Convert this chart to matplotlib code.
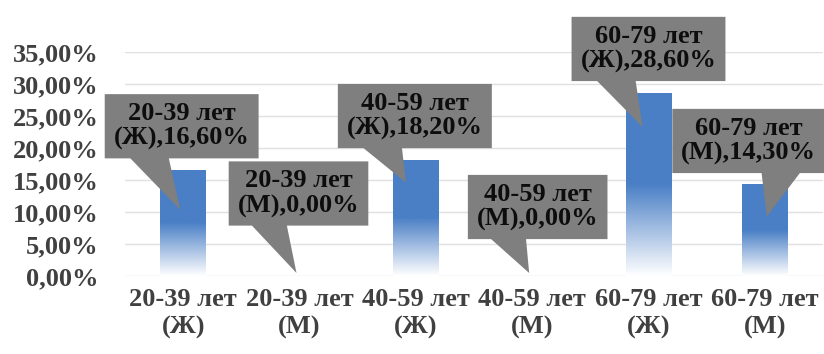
import matplotlib
matplotlib.use('Agg')
import matplotlib.pyplot as plt
import numpy as np
from matplotlib import font_manager as fm
from matplotlib.colors import LinearSegmentedColormap
from matplotlib.patches import Polygon
from matplotlib.ticker import FuncFormatter
from matplotlib.transforms import IdentityTransform

categories = ['20-39 лет\n(Ж)', '20-39 лет\n(М)', '40-59 лет\n(Ж)',
              '40-59 лет\n(М)', '60-79 лет\n(Ж)', '60-79 лет\n(М)']
values = [16.6, 0.0, 18.2, 0.0, 28.6, 14.3]

# callout layout, pixels relative to the top of each bar (x right, y up)
box_offsets = [(-1.5, 43.5), (-1, 82.5), (-1, 43.5), (5.5, 69), (0, 44), (-16, 43.5)]
tip_offsets = [(-3, -40), (-3, 3), (-10, -23), (-3, 3), (-6, -34), (2, -32)]

serif_bold = fm.findfont(fm.FontProperties(family='Liberation Serif', weight='bold'))

def fp(size):
    return fm.FontProperties(fname=serif_bold, size=size)

def pct(v, pos=None):
    return ('%.2f' % v).replace('.', ',') + '%'

fig = plt.figure(figsize=(8.24, 3.54), dpi=100)
ax = fig.add_axes([125/824, 1 - 276/354, 698/824, 224/354])

x = np.arange(len(values))
bar_w = 0.39
blue = '#4a7fc6'
fade = LinearSegmentedColormap.from_list('fade', [(0, '#ffffff'), (0.5, blue), (1, blue)])
grad = np.linspace(0, 1, 256).reshape(-1, 1)

bars = ax.bar(x, values, bar_w, color='none', edgecolor='none')
for b, v in zip(bars, values):
    if v <= 0:
        continue
    im = ax.imshow(grad, cmap=fade, origin='lower', aspect='auto', interpolation='bilinear',
                   extent=[b.get_x(), b.get_x() + b.get_width(), 0, v], zorder=2)
    im.set_clip_path(b)

ax.set_xlim(-0.5, len(values) - 0.5)
ax.set_ylim(0, 35)
ax.set_yticks(np.arange(0, 36, 5))
ax.yaxis.set_major_formatter(FuncFormatter(pct))
ax.set_xticks(x)
ax.set_xticklabels(categories, linespacing=1.2)
ax.tick_params(axis='both', length=0, colors='#404040')
ax.tick_params(axis='y', pad=19)
ax.tick_params(axis='x', pad=9)
for lab in ax.get_xticklabels():
    lab.set_fontproperties(fp(19))
for lab in ax.get_yticklabels():
    lab.set_fontproperties(fp(19))
ax.grid(axis='y', color='#e0e0e0', lw=1)
ax.set_axisbelow(True)
for s in ax.spines.values():
    s.set_visible(False)

fig.canvas.draw()
renderer = fig.canvas.get_renderer()
ident = IdentityTransform()
for i, v in enumerate(values):
    ax0, ay0 = ax.transData.transform((x[i], v))
    cx, cy = ax0 + box_offsets[i][0], ay0 + box_offsets[i][1]
    tx, ty = ax0 + tip_offsets[i][0], ay0 + tip_offsets[i][1]
    txt = fig.text(cx, cy, categories[i] + ',' + pct(v), transform=ident, ha='center', va='center',
                   fontproperties=fp(19), color='#0d0d0d', linespacing=1.1, zorder=5)
    ext = txt.get_window_extent(renderer)
    left, right = ext.x0 - 9, ext.x1 + 9
    bottom, top = ext.y0 - 8, ext.y1 + 8
    w = right - left
    if tx < (left + right) / 2:
        b1, b2 = left + w * 2 / 12, left + w * 5 / 12
    else:
        b1, b2 = left + w * 7 / 12, left + w * 10 / 12
    poly = Polygon([(left, top), (right, top), (right, bottom), (b2, bottom), (tx, ty),
                    (b1, bottom), (left, bottom)], closed=True, transform=ident,
                   facecolor='#7f7f7f', edgecolor='none', zorder=4)
    fig.add_artist(poly)

fig.savefig('out.png', dpi=100)
